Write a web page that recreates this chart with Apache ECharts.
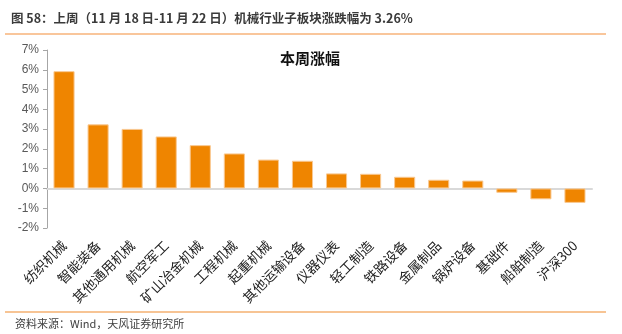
<!DOCTYPE html>
<html><head><meta charset="utf-8">
<script src="https://cdn.jsdelivr.net/npm/echarts@6/dist/echarts.min.js"></script>
<style>html,body{margin:0;padding:0;background:#fff;}#c{width:622px;height:334px;}</style>
</head><body><div id="c"></div>
<script>
const categories = ['纺织机械','智能装备','其他通用机械','航空军工','矿山冶金机械','工程机械','起重机械','其他运输设备','仪器仪表','轻工制造','铁路设备','金属制品','锅炉设备','基础件','船舶制造','沪深300'];
const weeklyChange = [5.93, 3.24, 3.01, 2.63, 2.19, 1.77, 1.46, 1.40, 0.76, 0.74, 0.59, 0.44, 0.40, -0.22, -0.55, -0.73];
const yTicks = [-2, -1, 0, 1, 2, 3, 4, 5, 6, 7];
const headerTitle = '图 58：上周（11 月 18 日-11 月 22 日）机械行业子板块涨跌幅为 3.26%';
const sourceNote = '资料来源：Wind，天风证券研究所';
const seriesName = '本周涨幅';

const chart = echarts.init(document.getElementById('c'), null, {renderer: 'canvas'});
const font = '"Noto Sans CJK SC", "Liberation Sans", sans-serif';
chart.setOption({
  animation: false,
  textStyle: {fontFamily: font},
  graphic: [
    {type: 'text', left: 11, top: 12, style: {text: headerTitle, font: 'bold 12.5px ' + font, fill: '#3a3a3a'}},
    {type: 'line', shape: {x1: 5, y1: 34, x2: 606, y2: 34}, style: {stroke: '#F7B37A', lineWidth: 1.5}},
    {type: 'line', shape: {x1: 5, y1: 312, x2: 606, y2: 312}, style: {stroke: '#F08A2A', lineWidth: 1.2}},
    {type: 'text', left: 15, top: 318, style: {text: sourceNote, font: '11px ' + font, fill: '#404040'}}
  ],
  title: {text: seriesName, left: 305, top: 46, textAlign: 'center',
    textStyle: {fontSize: 15, fontWeight: 'bold', color: '#111', fontFamily: font}},
  grid: {left: 47, right: 30, top: 50, bottom: 106, containLabel: false},
  xAxis: {
    type: 'category', data: categories,
    axisLine: {show: true, onZero: true, lineStyle: {color: '#D9D9D9', width: 2}},
    axisTick: {show: false},
    axisLabel: {interval: 0, rotate: 45, fontSize: 13.5, color: '#222', margin: 15, fontFamily: font},
    position: 'bottom'
  },
  yAxis: {
    type: 'value', min: -2, max: 7, interval: 1,
    axisLine: {show: true, lineStyle: {color: '#A6A6A6'}},
    axisTick: {show: true, inside: false, length: 4, lineStyle: {color: '#A6A6A6'}},
    splitLine: {show: false},
    axisLabel: {formatter: v => v + '%', fontSize: 12, color: '#595959', margin: 8, fontFamily: '"Liberation Sans", sans-serif'}
  },
  series: [{
    name: seriesName, type: 'bar', data: weeklyChange, barWidth: '62%',
    itemStyle: {color: '#EF8500', borderColor: '#F9C992', borderWidth: 1}
  }]
});
</script></body></html>
